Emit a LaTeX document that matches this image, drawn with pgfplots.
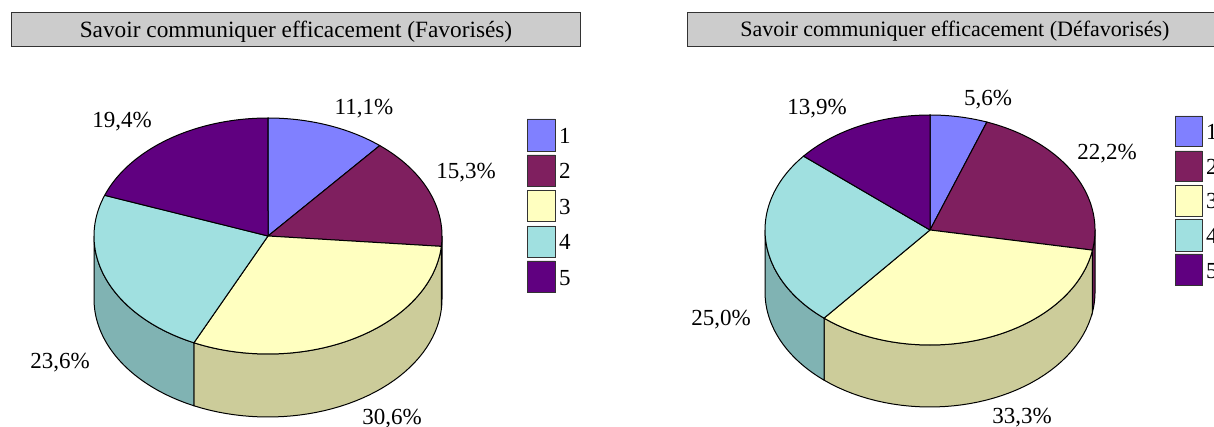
\documentclass[border=0pt]{standalone}
\usepackage{pgfplots}
\pgfplotsset{compat=1.18}
\usepackage{fontspec}
\setmainfont{Liberation Serif}
\definecolor{c1}{HTML}{8080FF}
\definecolor{c2}{HTML}{7F1F5F}
\definecolor{c3}{HTML}{FFFFC0}
\definecolor{c4}{HTML}{A0E0E0}
\definecolor{c5}{HTML}{600080}
\definecolor{s2}{HTML}{661A4D}
\definecolor{s3}{HTML}{CCCC9A}
\definecolor{s4}{HTML}{80B3B3}
\definecolor{tb}{HTML}{CCCCCC}
\newcommand{\labfont}{\fontsize{23}{25}\selectfont}
% #1 cx, #2 cy, #3 rx, #4 ry, #5 start (percent), #6 value (percent), #7 colour
\newcommand{\pieslice}[7]{%
  \addplot[draw=black,line width=1pt,fill=#7,variable=\n,domain=0:62,samples=63]
   ({#1+((\n<0.5||\n>61.5)?0:1)*#3*sin(3.6*(#5+#6*(\n-1)/60))},
    {#2-((\n<0.5||\n>61.5)?0:1)*#4*cos(3.6*(#5+#6*(\n-1)/60))});}
% #1 cx, #2 cy, #3 rx, #4 ry, #5 depth, #6 start, #7 end (percent, visible part), #8 colour
\newcommand{\pieside}[8]{%
  \addplot[draw=black,line width=1pt,fill=#8,variable=\n,domain=0:82,samples=83]
   ({#1+#3*sin(3.6*(\n<40.5?(#6+(#7-#6)*\n/40):(\n<81.5?(#7-(#7-#6)*(\n-41)/40):#6)))},
    {#2+((\n>40.5&&\n<81.5)?#5:0)-#4*cos(3.6*(\n<40.5?(#6+(#7-#6)*\n/40):(\n<81.5?(#7-(#7-#6)*(\n-41)/40):#6)))});}
\newcommand{\legendbox}[5]{%
  \addplot[draw=black!80,line width=0.8pt,fill=#5] coordinates {(#1,#3)(#2,#3)(#2,#4)(#1,#4)(#1,#3)};}
\newcommand{\lab}[2]{\node[inner sep=0pt,text=black] at (axis cs:#1) {\labfont #2};}
\newcommand{\leg}[2]{\node[inner sep=0pt,text=black,anchor=west] at (axis cs:#1) {\labfont #2};}
\begin{document}
\begin{tikzpicture}
\useasboundingbox (0,0) rectangle (1214pt,427pt);
\begin{axis}[scale only axis,width=1214pt,height=427pt,at={(0,0)},anchor=south west,
  xmin=0,xmax=1214,ymin=0,ymax=427,y dir=reverse,hide axis,no markers,clip=false]
% title boxes
\addplot[draw=black!80,line width=1pt,fill=tb] coordinates {(11,13)(580,13)(580,47)(11,47)(11,13)};
\addplot[draw=black!80,line width=1pt,fill=tb] coordinates {(687,13)(1218,13)(1218,47)(687,47)(687,13)};
\node[inner sep=0pt] at (axis cs:296,32) {\fontsize{23.3}{25}\selectfont Savoir communiquer efficacement (Favorisés)};
\node[inner sep=0pt] at (axis cs:955,31) {\fontsize{22}{24}\selectfont Savoir communiquer efficacement (Défavorisés)};
% left pie
\pieside{268}{236}{174}{118}{63}{25}{26.4}{s2}
\pieside{268}{236}{174}{118}{63}{26.4}{57}{s3}
\pieside{268}{236}{174}{118}{63}{57}{75}{s4}
\pieslice{268}{236}{174}{118}{0}{11.1}{c1}
\pieslice{268}{236}{174}{118}{11.1}{15.3}{c2}
\pieslice{268}{236}{174}{118}{26.4}{30.6}{c3}
\pieslice{268}{236}{174}{118}{57}{23.6}{c4}
\pieslice{268}{236}{174}{118}{80.6}{19.4}{c5}
% right pie
\pieside{930}{230}{165}{115}{62}{25}{27.8}{s2}
\pieside{930}{230}{165}{115}{62}{27.8}{61.1}{s3}
\pieside{930}{230}{165}{115}{62}{61.1}{75}{s4}
\pieslice{930}{230}{165}{115}{0}{5.6}{c1}
\pieslice{930}{230}{165}{115}{5.6}{22.2}{c2}
\pieslice{930}{230}{165}{115}{27.8}{33.3}{c3}
\pieslice{930}{230}{165}{115}{61.1}{25.0}{c4}
\pieslice{930}{230}{165}{115}{86.1}{13.9}{c5}
% legends
\legendbox{527}{555}{119}{151}{c1}
\legendbox{527}{555}{155}{186}{c2}
\legendbox{527}{555}{190}{221}{c3}
\legendbox{527}{555}{226}{257}{c4}
\legendbox{527}{555}{261}{292}{c5}
\legendbox{1175}{1202}{116}{146}{c1}
\legendbox{1175}{1202}{151}{181}{c2}
\legendbox{1175}{1202}{185}{216}{c3}
\legendbox{1175}{1202}{219}{251}{c4}
\legendbox{1175}{1202}{254}{285}{c5}
\leg{559,136}{1}
\leg{559,171}{2}
\leg{559,207}{3}
\leg{559,242}{4}
\leg{559,278}{5}
\leg{1206,132}{1}
\leg{1206,167}{2}
\leg{1206,201}{3}
\leg{1206,236}{4}
\leg{1206,271}{5}
% data labels
\lab{364,109}{11,1\%}
\lab{466,173}{15,3\%}
\lab{392,419}{30,6\%}
\lab{60,363}{23,6\%}
\lab{122,122}{19,4\%}
\lab{988,100}{5,6\%}
\lab{1107,154}{22,2\%}
\lab{1022,418}{33,3\%}
\lab{721,320}{25,0\%}
\lab{817,109}{13,9\%}
\end{axis}
\end{tikzpicture}
\end{document}
